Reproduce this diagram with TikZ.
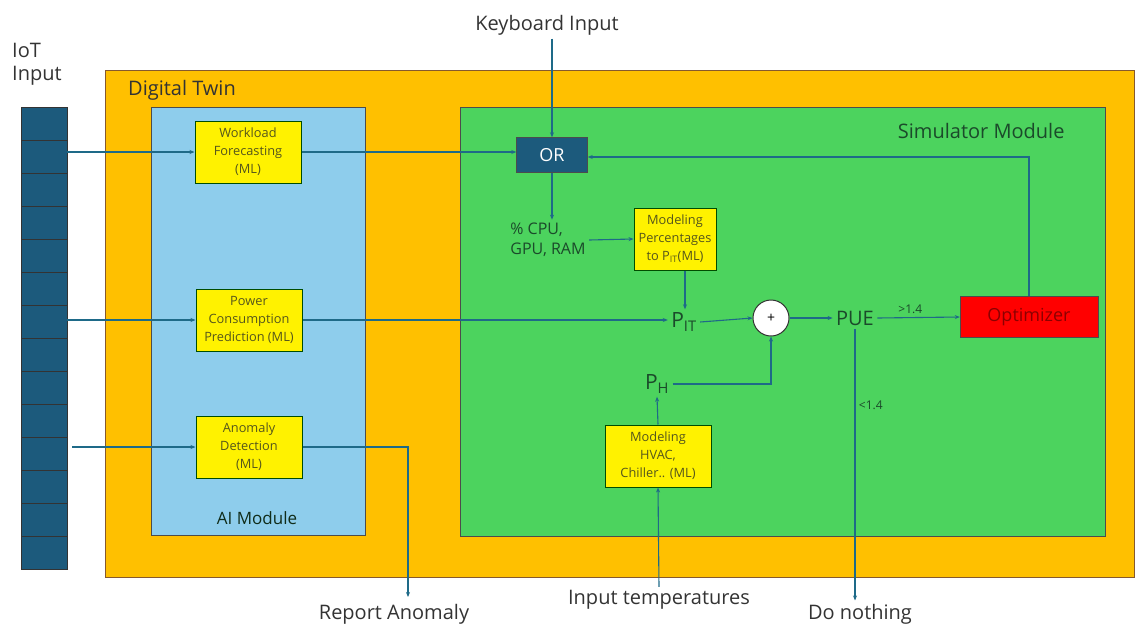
\documentclass[tikz,border=0pt]{standalone}
\usepackage{fontspec}
\setmainfont{Open Sans}
\usetikzlibrary{arrows.meta, positioning}

\definecolor{twinfill}{HTML}{FFC000}
\definecolor{aifill}{HTML}{8ECDEC}
\definecolor{simfill}{HTML}{4CD35E}
\definecolor{iotfill}{HTML}{1C5A7C}
\definecolor{wire}{HTML}{1E6A88}
\definecolor{mltext}{HTML}{55561C}
\definecolor{labtext}{HTML}{333333}
\definecolor{simtext}{HTML}{1B4A2A}

\tikzset{
  mlbox/.style={draw=black!70!green, line width=1pt, fill=yellow, text=mltext,
    align=center, minimum width=106pt, minimum height=62pt, inner sep=1pt,
    font=\fontsize{12.8}{18}\selectfont},
  wirearrow/.style={draw=wire, line width=1.1pt, -{Stealth[length=5pt, width=4pt]}},
  cell/.style={draw=black!80, fill=iotfill, minimum width=46pt, minimum height=33pt,
    inner sep=0pt, line width=0.8pt},
  outlabel/.style={text=labtext, font=\fontsize{20}{23}\selectfont}
}

\begin{document}
\begin{tikzpicture}[x=1pt, y=-1pt]
    \useasboundingbox (0,0) rectangle (1135,627);
    % frames
    \draw[fill=twinfill, draw=brown!70!black, line width=1pt] (105,70) rectangle (1134,577);
    \draw[fill=aifill, draw=black!70, line width=1pt] (151,107) rectangle (365,535);
    \draw[fill=simfill, draw=black!70, line width=1pt] (460,107) rectangle (1105,536);
    \node[text=labtext, font=\fontsize{20}{22}\selectfont] (twin) at (182,90) {Digital Twin};
    \node[text=simtext!60!black, font=\fontsize{17}{19}\selectfont] (aimod) at (257,518) {AI Module};
    \node[text=simtext, font=\fontsize{20}{22}\selectfont, anchor=east] (simmod) at (1068,131) {Simulator Module};

    % IoT input stack
    \node[outlabel, align=left, anchor=north west, inner sep=0pt] (iot) at (12,43) {IoT\\Input};
    \foreach \i in {0,...,13}
        \node[cell] (cell\i) at (44,{123.5+33*\i}) {};

    % AI module
    \node[mlbox] (work) at (248,152) {Workload\\Forecasting\\(ML)};
    \node[mlbox] (power) at (249,320) {Power\\Consumption\\Prediction (ML)};
    \node[mlbox] (anom) at (249,447) {Anomaly\\Detection\\(ML)};

    % simulator module
    \node[draw=black!70, fill=iotfill, text=white, minimum width=71pt, minimum height=35pt,
        font=\fontsize{18}{20}\selectfont] (or) at (552,155) {OR};
    \node[text=simtext, align=left, font=\fontsize{16}{20}\selectfont] (usage) at (548,240) {\% CPU,\\GPU, RAM};
    \node[mlbox, minimum width=82pt] (pctmodel) at (675,239) {Modeling\\Percentages\\to P\textsubscript{IT}(ML)};
    \node[text=simtext, font=\fontsize{21}{23}\selectfont] (pit) at (684,322) {P\textsubscript{IT}};
    \node[draw=black!80, fill=white, circle, minimum size=36pt, inner sep=0pt, line width=1pt,
        font=\fontsize{14}{14}\selectfont] (sum) at (771,318) {+};
    \node[text=simtext, font=\fontsize{20}{22}\selectfont] (pue) at (855,318) {PUE};
    \node[draw=black!70, fill=red, text=red!55!black, minimum width=138pt, minimum height=41pt,
        font=\fontsize{18}{20}\selectfont] (opt) at (1029,317) {Optimizer};
    \node[text=simtext, font=\fontsize{21}{23}\selectfont] (ph) at (657,384) {P\textsubscript{H}};
    \node[mlbox] (hvac) at (658,456) {Modeling\\HVAC,\\Chiller.. (ML)};

    % outside labels
    \node[outlabel] (kbd) at (547,25) {Keyboard Input};
    \node[outlabel] (repA) at (394,614) {Report Anomaly};
    \node[outlabel] (temps) at (659,600) {Input temperatures};
    \node[outlabel] (nothing) at (860,614) {Do nothing};
    \coordinate (ra) at (408,597);

    % connectors
    \draw[wirearrow] (cell1.east |- work.west) -- (work.west);
    \draw[wirearrow] (cell6.east |- power.west) -- (power.west);
    \draw[wirearrow] ([xshift=5pt]cell10.east |- anom.west) -- (anom.west);
    \draw[wirearrow] (work.east) -- (or.west |- work.east);
    \draw[wirearrow] (or.north |- kbd.south) -- (or.north);
    \draw[wirearrow] (or.south) -- (usage.north -| or.south);
    \draw[wirearrow] (usage.east) -- (pctmodel.west);
    \draw[wirearrow] ([xshift=10pt]pctmodel.south) -- ([xshift=10pt]pctmodel.south |- pit.north);
    \draw[wirearrow] (power.east) -- (pit.west |- power.east);
    \draw[wirearrow] (pit.east) -- (sum.west);
    \draw[wirearrow] (sum.east) -- (pue.west);
    \draw[wirearrow] (pue.east) -- node[above, text=simtext, font=\fontsize{12}{13}\selectfont, pos=0.4] {>1.4} (opt.west);
    \draw[wirearrow] (opt.north) |- ([yshift=-2pt]or.east);
    \draw[wirearrow] (ph.east) -| (sum.south);
    \draw[wirearrow] (hvac.north) -- (ph.south);
    \draw[wirearrow] (temps.north) -- (hvac.south);
    \draw[wirearrow] (anom.east) -| (ra);
    \draw[wirearrow] (pue.south) -- node[right, pos=0.28, text=simtext, font=\fontsize{12}{13}\selectfont] {<1.4} (pue.south |- nothing.north);
\end{tikzpicture}
\end{document}
